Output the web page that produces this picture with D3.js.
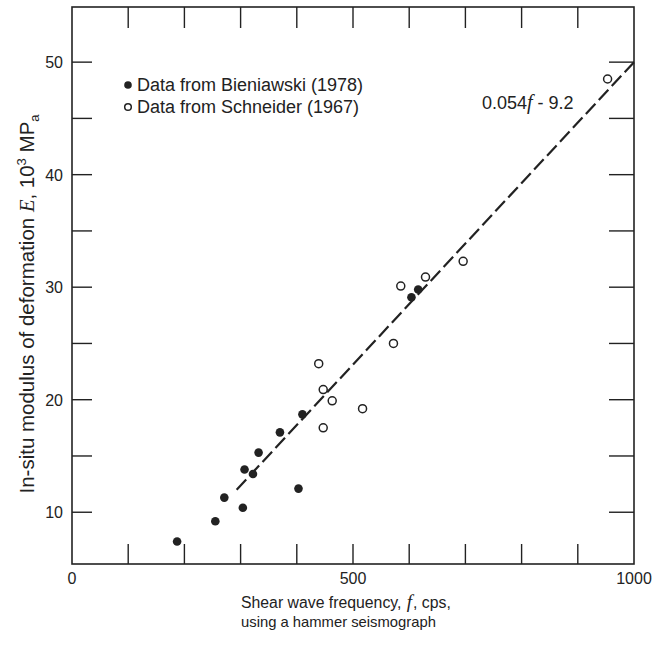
<!DOCTYPE html>
<html>
<head>
<meta charset="utf-8">
<script src="https://d3js.org/d3.v7.min.js"></script>
<style>
  body { margin: 0; background: #fff; }
  svg { display: block; }
  text { font-family: "Liberation Sans", Arial, sans-serif; fill: #222; }
</style>
</head>
<body>
<div id="chart"></div>
<script>
// Bieniawski (1978) - solid dots
const bieniawskiF = [187, 255, 271, 304, 307, 322, 332, 370, 403, 410, 604, 616];
const bieniawskiE = [7.4, 9.2, 11.3, 10.4, 13.8, 13.4, 15.3, 17.1, 12.1, 18.7, 29.1, 29.8];

// Schneider (1967) - open circles
const schneiderF = [439, 447, 447, 463, 517, 572, 585, 629, 696, 953];
const schneiderE = [23.2, 20.9, 17.5, 19.9, 19.2, 25.0, 30.1, 30.9, 32.3, 48.5];

// fitted dashed line, end points
const fitF = [293, 1000];
const fitE = [12.0, 50.0];

const xTicks = [100, 200, 300, 400, 500, 600, 700, 800, 900];
const xLabels = [0, 500, 1000];
const yTicks = [10, 15, 20, 25, 30, 35, 40, 45, 50];
const yLabels = [10, 20, 30, 40, 50];

const width = 662, height = 651;
const m = { left: 72, right: 634, top: 7, bottom: 564 };

const svg = d3.select('#chart').append('svg')
  .attr('width', width).attr('height', height);

const x = d3.scaleLinear().domain([0, 1000]).range([m.left, m.right]);
const y = d3.scaleLinear().domain([5.4, 54.9]).range([m.bottom, m.top]);

// frame
svg.append('rect')
  .attr('x', m.left).attr('y', m.top)
  .attr('width', m.right - m.left).attr('height', m.bottom - m.top)
  .attr('fill', 'none').attr('stroke', '#222').attr('stroke-width', 1.6);

// inward ticks
const tickG = svg.append('g').attr('stroke', '#222').attr('stroke-width', 1.4);
xTicks.forEach(t => {
  tickG.append('line').attr('x1', x(t)).attr('x2', x(t)).attr('y1', m.bottom).attr('y2', m.bottom - 20);
  tickG.append('line').attr('x1', x(t)).attr('x2', x(t)).attr('y1', m.top).attr('y2', m.top + 21);
});
yTicks.forEach(t => {
  tickG.append('line').attr('x1', m.left).attr('x2', m.left + 20).attr('y1', y(t)).attr('y2', y(t));
  tickG.append('line').attr('x1', m.right).attr('x2', m.right - 25).attr('y1', y(t)).attr('y2', y(t));
});

// tick labels
svg.append('g').selectAll('text').data(xLabels).enter().append('text')
  .attr('x', d => x(d)).attr('y', m.bottom + 20)
  .attr('text-anchor', 'middle').attr('font-size', 16)
  .text(d => d);
svg.append('g').selectAll('text').data(yLabels).enter().append('text')
  .attr('x', m.left - 9).attr('y', d => y(d) + 6)
  .attr('text-anchor', 'end').attr('font-size', 16)
  .text(d => d);

// axis titles
const xt = svg.append('text').attr('text-anchor', 'start').attr('font-size', 15.8);
xt.append('tspan').attr('x', 241).attr('y', 608).text('Shear wave frequency, ');
xt.append('tspan').attr('font-style', 'italic').attr('font-family', 'Liberation Serif, serif')
  .attr('font-size', 19).attr('dx', 1).text('f');
xt.append('tspan').attr('dx', 1).text(', cps,');
svg.append('text').attr('x', 241).attr('y', 627).attr('font-size', 14.8)
  .text('using a hammer seismograph');

const yt = svg.append('text')
  .attr('transform', 'translate(34,304) rotate(-90)')
  .attr('text-anchor', 'middle').attr('font-size', 20.5);
yt.append('tspan').text('In-situ modulus of deformation ');
yt.append('tspan').attr('font-style', 'italic').attr('font-family', 'Liberation Serif, serif').text('E');
yt.append('tspan').text(', 10');
yt.append('tspan').attr('font-size', 13).attr('dy', -8).text('3');
yt.append('tspan').attr('dy', 8).text(' MP');
yt.append('tspan').attr('font-size', 13).attr('dy', 5).text('a');

// fitted line
const fit = fitF.map((f, i) => [f, fitE[i]]);
svg.append('path')
  .attr('d', d3.line().x(d => x(d[0])).y(d => y(d[1]))(fit))
  .attr('fill', 'none').attr('stroke', '#222').attr('stroke-width', 2.2)
  .attr('stroke-dasharray', '14,5');

// equation label
const eq = svg.append('text').attr('x', 482).attr('y', 109).attr('font-size', 18);
eq.append('tspan').text('0.054');
eq.append('tspan').attr('font-style', 'italic').attr('font-family', 'Liberation Serif, serif')
  .attr('font-size', 20).text('f');
eq.append('tspan').text(' - 9.2');

// points
const solid = bieniawskiF.map((f, i) => [f, bieniawskiE[i]]);
const open = schneiderF.map((f, i) => [f, schneiderE[i]]);

svg.append('g').selectAll('circle').data(open).enter().append('circle')
  .attr('cx', d => x(d[0])).attr('cy', d => y(d[1])).attr('r', 4)
  .attr('fill', '#fff').attr('stroke', '#222').attr('stroke-width', 1.5);
svg.append('g').selectAll('circle').data(solid).enter().append('circle')
  .attr('cx', d => x(d[0])).attr('cy', d => y(d[1])).attr('r', 4.3)
  .attr('fill', '#222');

// legend
const legend = [
  { label: 'Data from Bieniawski (1978)', filled: true },
  { label: 'Data from Schneider (1967)', filled: false }
];
legend.forEach((l, i) => {
  const row = svg.append('g').attr('transform', `translate(128, ${85 + i * 22})`);
  row.append('circle').attr('r', l.filled ? 3.8 : 3.3)
    .attr('fill', l.filled ? '#222' : '#fff')
    .attr('stroke', '#222').attr('stroke-width', l.filled ? 0 : 1.5);
  row.append('text').attr('x', 9).attr('y', 6).attr('font-size', 18).text(l.label);
});
</script>
</body>
</html>
